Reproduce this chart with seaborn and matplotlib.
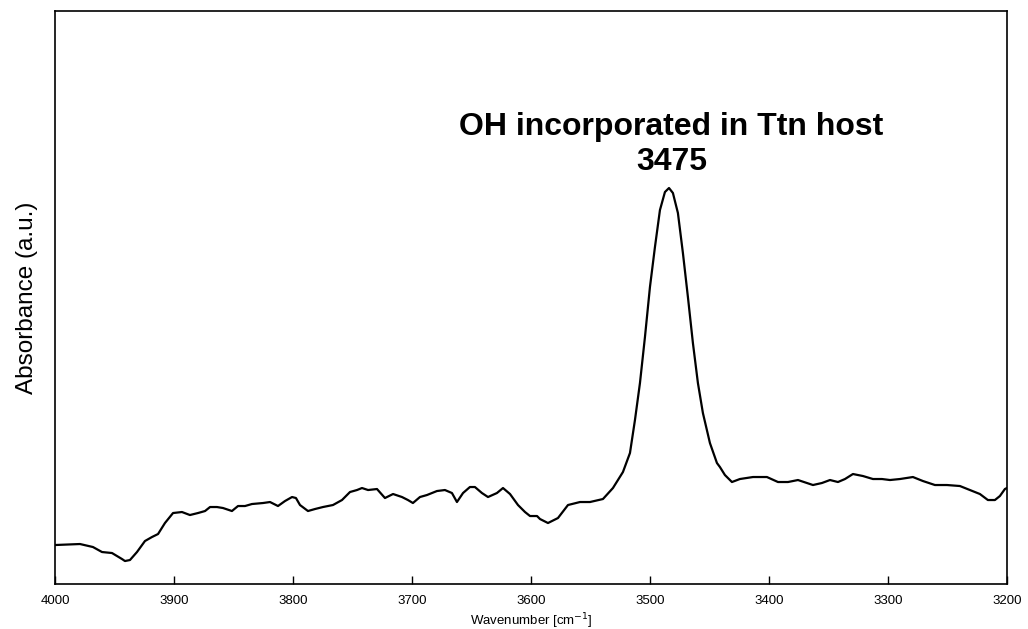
import numpy as np
import pandas as pd
import matplotlib
matplotlib.use("Agg")
import matplotlib.pyplot as plt
import seaborn as sns

# FTIR spectrum in the OH-stretching region
wavenumber = [
    4000.0, 3979.0, 3968.1, 3960.5, 3952.1, 3943.7, 3941.2, 3937.0, 3931.1, 3924.4,
    3918.5, 3913.4, 3907.6, 3900.8, 3893.3, 3886.6, 3879.8, 3873.9, 3869.7, 3863.9,
    3858.8, 3851.3, 3846.2, 3840.3, 3834.5, 3825.2, 3819.3, 3812.6, 3806.7, 3800.8,
    3797.5, 3794.1, 3787.4, 3781.5, 3774.8, 3766.4, 3758.8, 3752.1, 3746.2, 3742.0,
    3736.9, 3729.4, 3722.7, 3715.9, 3708.4, 3703.4, 3699.2, 3693.3, 3687.4, 3679.0,
    3672.3, 3666.4, 3662.2, 3657.1, 3651.3, 3647.1, 3641.2, 3636.1, 3628.6, 3623.5,
    3617.6, 3610.9, 3605.0, 3600.8, 3594.9, 3592.4, 3585.7, 3577.3, 3568.9, 3558.8,
    3550.4, 3539.5, 3531.1, 3522.7, 3516.8, 3512.6, 3508.4, 3504.2, 3500.0, 3495.8,
    3491.6, 3487.4, 3484.0, 3480.7, 3476.5, 3472.3, 3468.1, 3463.9, 3459.7, 3455.5,
    3449.6, 3443.7, 3441.2, 3437.0, 3431.1, 3424.4, 3413.4, 3401.7, 3392.4, 3384.0,
    3375.6, 3363.0, 3355.5, 3348.7, 3342.0, 3336.1, 3329.4, 3321.0, 3312.6, 3305.0,
    3298.3, 3289.9, 3279.0, 3270.6, 3260.5, 3250.4, 3239.5, 3231.1, 3222.7, 3216.0,
    3210.1, 3205.9, 3201.7, 3200.0,
]
absorbance = [
    0.0975, 0.100, 0.0925, 0.080, 0.0775, 0.0625, 0.0575, 0.060, 0.080, 0.1075,
    0.1175, 0.125, 0.1525, 0.1775, 0.180, 0.1725, 0.1775, 0.1825, 0.1925, 0.1925,
    0.190, 0.1825, 0.195, 0.195, 0.200, 0.2025, 0.205, 0.195, 0.2075, 0.2175,
    0.215, 0.1975, 0.1825, 0.1875, 0.1925, 0.1975, 0.210, 0.230, 0.235, 0.240,
    0.235, 0.2375, 0.215, 0.225, 0.2175, 0.210, 0.2025, 0.2175, 0.2225, 0.2325,
    0.235, 0.2275, 0.205, 0.2275, 0.2425, 0.2425, 0.2275, 0.2175, 0.2275, 0.240,
    0.225, 0.1975, 0.180, 0.170, 0.170, 0.1625, 0.1525, 0.165, 0.1975, 0.205,
    0.205, 0.2125, 0.240, 0.280, 0.3275, 0.410, 0.5025, 0.6175, 0.7425, 0.8425,
    0.935, 0.980, 0.990, 0.9775, 0.9275, 0.8275, 0.7175, 0.6025, 0.5025, 0.4275,
    0.3525, 0.3025, 0.2925, 0.2725, 0.255, 0.2625, 0.2675, 0.2675, 0.255, 0.255,
    0.260, 0.2475, 0.2525, 0.260, 0.255, 0.2625, 0.275, 0.270, 0.2625, 0.2625,
    0.260, 0.2625, 0.2675, 0.2575, 0.2475, 0.2475, 0.245, 0.235, 0.225, 0.210,
    0.210, 0.220, 0.2375, 0.240,
]
x_ticks = [4000, 3900, 3800, 3700, 3600, 3500, 3400, 3300, 3200]
band_title = "OH incorporated in Ttn host"
band_label = "3475"

df = pd.DataFrame({"wavenumber": wavenumber, "absorbance": absorbance})

sns.set_theme(style="white")
plt.rcParams["font.family"] = ["Liberation Sans", "DejaVu Sans"]
plt.rcParams["text.color"] = "black"
plt.rcParams["axes.labelcolor"] = "black"

fig = plt.figure(figsize=(10.28, 6.29), dpi=100)
ax = fig.add_axes([0.0535, 0.0715, 0.926, 0.911])

sns.lineplot(data=df, x="wavenumber", y="absorbance", ax=ax, color="black",
             linewidth=1.6, sort=False, estimator=None)

ax.set_xlim(4000, 3200)
ax.set_ylim(0, 1.4325)
ax.set_xticks(x_ticks)
ax.set_xticklabels([str(t) for t in x_ticks], fontsize=9.5)
ax.set_yticks([])
ax.tick_params(axis="x", direction="in", length=6, width=1.0, bottom=True,
               pad=8, colors="black")
for spine in ax.spines.values():
    spine.set_visible(True)
    spine.set_color("black")
    spine.set_linewidth(1.2)

ax.set_xlabel("Wavenumber [cm$^{-1}$]", fontsize=9.5, labelpad=3)
ax.set_ylabel("Absorbance (a.u.)", fontsize=17.5, labelpad=12)

# band annotation just above the peak maximum
i_max = int(np.argmax(absorbance))
peak_x = wavenumber[i_max]
ax.text(peak_x - 2, 1.1225, band_title, ha="center", va="baseline",
        fontsize=23, fontweight="bold")
ax.text(peak_x - 2, 1.035, band_label, ha="center", va="baseline",
        fontsize=23, fontweight="bold")

fig.savefig("out.png", dpi=100)
